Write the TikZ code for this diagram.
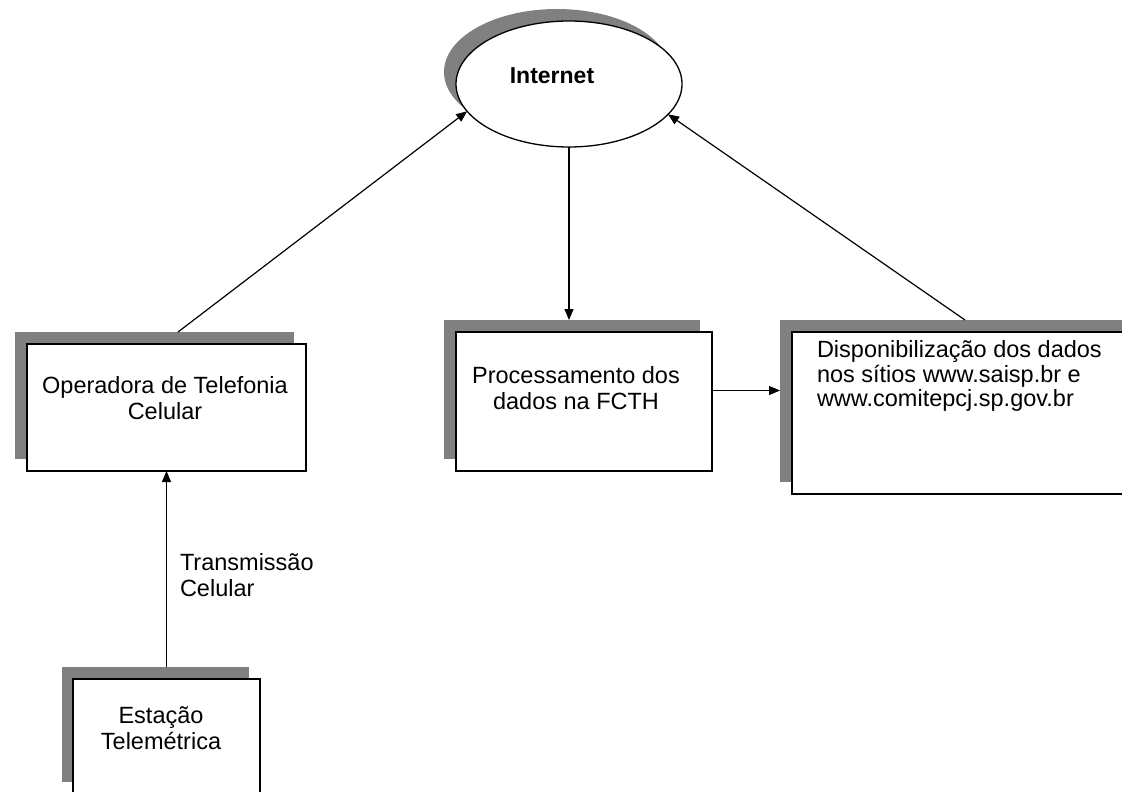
\documentclass[tikz,border=0pt]{standalone}
\usepackage{fontspec}
\setmainfont{Liberation Sans}
\usetikzlibrary{arrows.meta,shapes.geometric,calc}
\definecolor{shgray}{RGB}{128,128,128}
\begin{document}
\begin{tikzpicture}[x=1pt,y=-1pt,
  every node/.style={inner sep=0pt, outer sep=0pt},
  shadowbox/.style={fill=shgray, draw=none, rectangle, anchor=north west},
  mainbox/.style={fill=white, draw=black, line width=1.3pt, rectangle, anchor=north west},
  arr/.style={line width=1.2pt, -{Triangle[length=11pt,width=9pt]}},
  txt/.style={align=center, font=\fontsize{23.5}{26}\selectfont},
  lbl/.style={align=left, font=\fontsize{23.5}{26}\selectfont}
]
\clip (0,0) rectangle (1122,792);
\fill[white] (0,0) rectangle (1122,792);

% Internet
\node[ellipse, fill=shgray, minimum width=226pt, minimum height=126pt] (intS) at (557,72) {};
\node[ellipse, draw=black, line width=1.3pt, fill=white, minimum width=226pt, minimum height=126pt] (int) at (569,84) {};
\node[font=\fontsize{23}{26}\selectfont\bfseries] (intT) at (552,76) {Internet};

% Operadora
\node[shadowbox, minimum width=279pt, minimum height=127pt] (opS) at (15,332) {};
\node[mainbox, minimum width=279pt, minimum height=127pt] (op) at (27,344) {};
\node[txt] (opT) at (165,398) {Operadora de Telefonia\\Celular};

% Processamento
\node[shadowbox, minimum width=256pt, minimum height=139pt] (procS) at (444,320) {};
\node[mainbox, minimum width=256pt, minimum height=139pt] (proc) at (456,332) {};
\node[txt] (procT) at (576,388) {Processamento dos\\dados na FCTH};

% Disponibilizacao
\node[shadowbox, minimum width=348pt, minimum height=162pt] (dispS) at (780,320) {};
\node[mainbox, minimum width=348pt, minimum height=162pt] (disp) at (792,332) {};
\node[lbl, anchor=west, font=\fontsize{23.5}{24.5}\selectfont] (dispT) at (817,376) {Disponibilização dos dados\\nos sítios www.saisp.br e\\www.comitepcj.sp.gov.br};

% Estacao
\node[shadowbox, minimum width=187pt, minimum height=115pt] (estS) at (62,667) {};
\node[mainbox, minimum width=187pt, minimum height=115pt] (est) at (73,679) {};
\node[txt] (estT) at (161,728) {Estação\\Telemétrica};

% Connectors
\draw[arr] ($(opS.north west)+(163,0)$) -- (int.195);
\draw[arr] (int.south) -- (int.south |- procS.north);
\draw[arr] ([yshift=11pt]proc.east) -- ([yshift=11pt]proc.east -| dispS.west);
\draw[arr] ($(dispS.north west)+(185,0)$) -- (int.343);
\draw[arr] (est.north |- estS.north) -- (est.north |- op.south);

\node[lbl, anchor=west] (tl) at (180,575) {Transmissão\\Celular};
\end{tikzpicture}
\end{document}
